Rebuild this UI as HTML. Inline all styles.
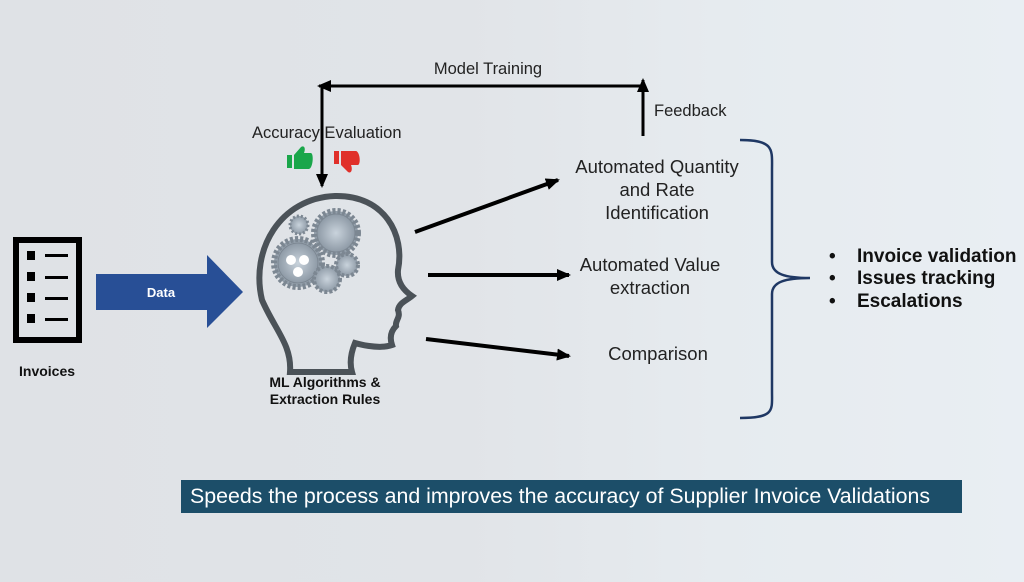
<!DOCTYPE html>
<html><head><meta charset="utf-8"><style>
html,body{margin:0;padding:0;}
body{width:1024px;height:577px;overflow:hidden;background:linear-gradient(90deg,#dfe2e6 0%,#e1e4e8 45%,#e6ebef 70%,#e9eef3 100%);font-family:"Liberation Sans",Arial,sans-serif;}
svg text{font-family:"Liberation Sans",Arial,sans-serif;}
</style></head><body>
<svg width="1024" height="577" viewBox="0 0 1024 577" xmlns="http://www.w3.org/2000/svg">
<defs>
<radialGradient id="gr" cx="0.5" cy="0.5" r="0.5"><stop offset="0" stop-color="#c9d3dc"/><stop offset="1" stop-color="#8e9aa6"/></radialGradient>
<marker id="ah" markerWidth="14" markerHeight="12" refX="12" refY="6" orient="auto" markerUnits="userSpaceOnUse"><path d="M0,0 L14,6 L0,12 z" fill="#000"/></marker>
</defs>
<rect x="16" y="240" width="63" height="100" fill="none" stroke="#000" stroke-width="6"/>
<g fill="#000">
<rect x="27" y="251" width="8" height="9"/><rect x="45" y="254" width="23" height="3"/>
<rect x="27" y="272" width="8" height="9"/><rect x="45" y="276" width="23" height="3"/>
<rect x="27" y="293" width="8" height="9"/><rect x="45" y="297" width="23" height="3"/>
<rect x="27" y="314" width="8" height="9"/><rect x="45" y="318" width="23" height="3"/>
</g>
<text x="19" y="376" font-size="14" font-weight="bold" fill="#111">Invoices</text>
<path d="M96,274 H207 V255 L243,292 L207,328 V310 H96 Z" fill="#284f96"/>
<text x="161" y="297" font-size="13" font-weight="bold" fill="#fff" text-anchor="middle">Data</text>
<path d="M262,300 C250,250 280,198 335,196 C385,195 405,235 398,270 C397,282 403,290 412,296 C406,301 399,303 398,310 C401,318 395,320 396,326 C392,330 389,336 392,345 C378,350 355,343 355,343 C350,355 350,365 352,372 L290,372 C292,345 275,330 262,300 Z" fill="none" stroke="#4b5258" stroke-width="6"/>
<g fill="url(#gr)" stroke="#7c8792" stroke-width="1">
<circle cx="336" cy="233" r="22" stroke-dasharray="3 2" stroke-width="6"/>
<circle cx="336" cy="233" r="19"/>
<circle cx="298" cy="263" r="24" stroke-dasharray="3 2" stroke-width="6"/>
<circle cx="298" cy="263" r="20"/>
<circle cx="327" cy="279" r="13" stroke-width="4" stroke-dasharray="3 2"/>
<circle cx="347" cy="265" r="11" stroke-width="4" stroke-dasharray="3 2"/>
<circle cx="299" cy="225" r="9" stroke-width="3" stroke-dasharray="2 2"/>
</g>
<circle cx="291" cy="260" r="5" fill="#fff"/><circle cx="304" cy="260" r="5" fill="#fff"/><circle cx="298" cy="272" r="5" fill="#fff"/>
<text x="325" y="387" font-size="14" font-weight="bold" fill="#111" text-anchor="middle">ML Algorithms &amp;</text>
<text x="325" y="404" font-size="14" font-weight="bold" fill="#111" text-anchor="middle">Extraction Rules</text>
<line x1="643" y1="136" x2="643" y2="80" stroke="#000" stroke-width="3" marker-end="url(#ah)"/>
<line x1="643" y1="86" x2="319" y2="86" stroke="#000" stroke-width="3" marker-end="url(#ah)"/>
<line x1="322" y1="86" x2="322" y2="186" stroke="#000" stroke-width="3" marker-end="url(#ah)"/>
<text x="488" y="74" font-size="16.5" fill="#222" text-anchor="middle">Model Training</text>
<text x="654" y="116" font-size="16.5" fill="#222">Feedback</text>
<text x="252" y="138" font-size="16.5" fill="#222">Accuracy Evaluation</text>
<g fill="#1aa64a"><rect x="287" y="155" width="5" height="13"/><path d="M294,155 L301,147 C304,145 306,148 304,153 L311,153 C314,154 313,168 309,169 L294,169 Z"/></g>
<g fill="#e0302a"><rect x="334" y="151" width="5" height="13"/><path d="M341,151 L356,151 C360,152 361,164 358,165 L351,165 C353,170 351,174 348,172 L341,165 Z"/></g>
<line x1="415" y1="232" x2="558" y2="180" stroke="#000" stroke-width="4" marker-end="url(#ah)"/>
<line x1="428" y1="275" x2="569" y2="275" stroke="#000" stroke-width="4" marker-end="url(#ah)"/>
<line x1="426" y1="339" x2="569" y2="356" stroke="#000" stroke-width="4" marker-end="url(#ah)"/>
<g font-size="18.5" fill="#222" text-anchor="middle">
<text x="657" y="173">Automated Quantity</text>
<text x="657" y="196">and Rate</text>
<text x="657" y="219">Identification</text>
<text x="650" y="271">Automated Value</text>
<text x="650" y="294">extraction</text>
<text x="658" y="360">Comparison</text>
</g>
<path d="M740,140 C775,140 772,150 772,170 L772,262 C772,274 785,278 810,278 C785,278 772,282 772,294 L772,392 C772,410 775,418 740,418" fill="none" stroke="#1f3864" stroke-width="2.5"/>
<g font-size="19" font-weight="bold" fill="#111">
<text x="829" y="262">•</text><text x="857" y="262">Invoice validation</text>
<text x="829" y="284">•</text><text x="857" y="284">Issues tracking</text>
<text x="829" y="307">•</text><text x="857" y="307">Escalations</text>
</g>
<rect x="181" y="480" width="781" height="33" fill="#1c4e69"/>
<text x="190" y="503" font-size="21" fill="#fff" textLength="740" lengthAdjust="spacingAndGlyphs">Speeds the process and improves the accuracy of Supplier Invoice Validations</text>
</svg>
</body></html>
